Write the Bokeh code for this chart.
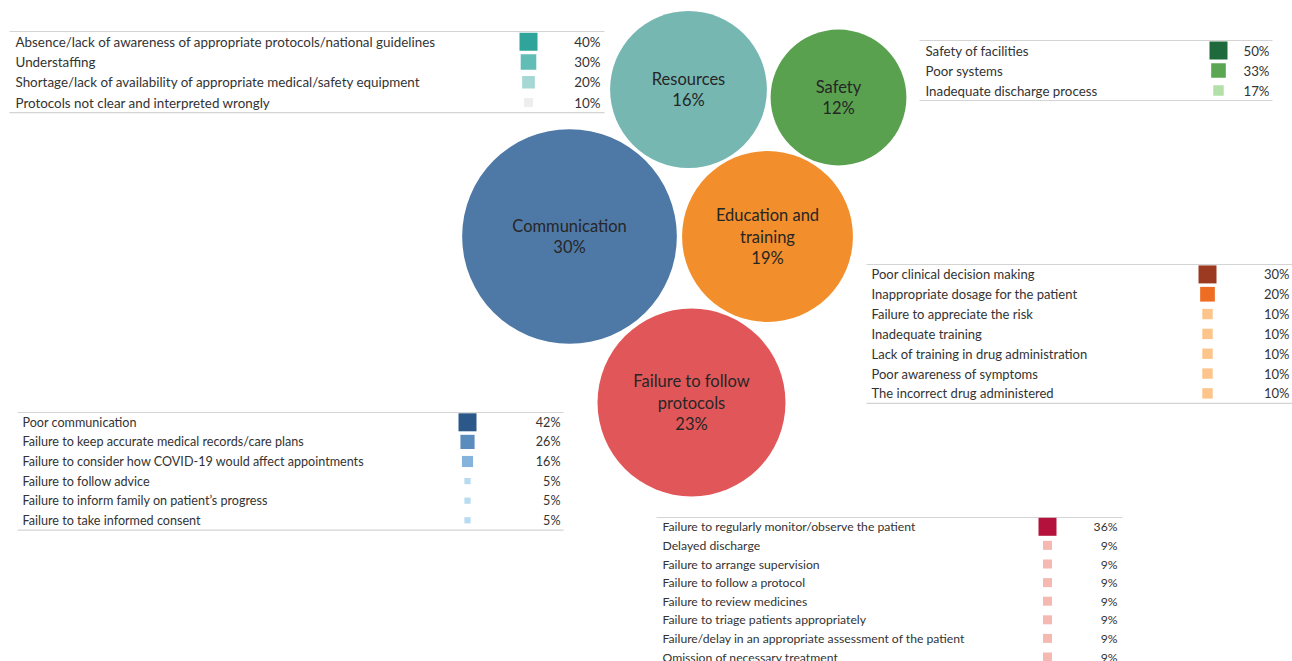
import math
from bokeh.plotting import figure
from bokeh.models import Range1d
from bokeh.core.properties import value
from bokeh.embed import file_html
from bokeh.resources import INLINE

# ---------------- data ----------------
categories = ["Communication", "Failure to follow protocols", "Education and training", "Resources", "Safety"]
category_lines = [["Communication"], ["Failure to follow", "protocols"], ["Education and", "training"], ["Resources"], ["Safety"]]
category_share = [30, 23, 19, 16, 12]

resources_causes = ["Absence/lack of awareness of appropriate protocols/national guidelines",
                    "Understaffing",
                    "Shortage/lack of availability of appropriate medical/safety equipment",
                    "Protocols not clear and interpreted wrongly"]
resources_share = [40, 30, 20, 10]

safety_causes = ["Safety of facilities", "Poor systems", "Inadequate discharge process"]
safety_share = [50, 33, 17]

education_causes = ["Poor clinical decision making", "Inappropriate dosage for the patient",
                    "Failure to appreciate the risk", "Inadequate training",
                    "Lack of training in drug administration", "Poor awareness of symptoms",
                    "The incorrect drug administered"]
education_share = [30, 20, 10, 10, 10, 10, 10]

communication_causes = ["Poor communication", "Failure to keep accurate medical records/care plans",
                        "Failure to consider how COVID-19 would affect appointments",
                        "Failure to follow advice", "Failure to inform family on patient\u2019s progress",
                        "Failure to take informed consent"]
communication_share = [42, 26, 16, 5, 5, 5]

protocols_causes = ["Failure to regularly monitor/observe the patient", "Delayed discharge",
                    "Failure to arrange supervision", "Failure to follow a protocol",
                    "Failure to review medicines", "Failure to triage patients appropriately",
                    "Failure/delay in an appropriate assessment of the patient",
                    "Omission of necessary treatment"]
protocols_share = [36, 9, 9, 9, 9, 9, 9, 9]

# ---------------- layout / style ----------------
FONT = "Lato"
bubble_colors = {"Communication": "#4e79a7", "Failure to follow protocols": "#e15759",
                 "Education and training": "#f28e2b", "Resources": "#76b7b2", "Safety": "#59a14f"}
bubble_centers = {"Communication": (569, 236), "Failure to follow protocols": (691, 402),
                  "Education and training": (767, 236), "Resources": (688, 89), "Safety": (838, 97)}
RADIUS_K = 19.6
BUBBLE_LINE_H = 21.5

W, H = 1292, 661
p = figure(width=W, height=H, x_range=Range1d(0, W), y_range=Range1d(H, 0),
           output_backend="svg", toolbar_location=None, min_border=0,
           x_axis_location=None, y_axis_location=None)
p.grid.visible = False
p.outline_line_color = None
p.background_fill_color = "white"

# bubbles
for cat, lines, share in zip(categories, category_lines, category_share):
    cx, cy = bubble_centers[cat]
    r = RADIUS_K * math.sqrt(share)
    p.circle(x=[cx], y=[cy], radius=r, fill_color=bubble_colors[cat], line_color=None)
    all_lines = lines + [f"{share}%"]
    n = len(all_lines)
    ys = [cy + (i - (n - 1) / 2) * BUBBLE_LINE_H for i in range(n)]
    p.text(x=[cx] * n, y=ys, text=all_lines, text_align="center", text_baseline="middle",
           text_font=value(FONT), text_font_size="16.5px", text_color="#262626")

# tables
tables = [
    dict(items=resources_causes, vals=resources_share,
         colors=["#2ea49a", "#62bdb6", "#a5d8d4", "#eeeeee"],
         x0=9, x1=604, top=31, rh=20.3, lx=15, sx=528, px=600, fs="13.4px"),
    dict(items=safety_causes, vals=safety_share,
         colors=["#1e6a3c", "#5aa653", "#b3e0a9"],
         x0=919, x1=1272, top=40, rh=20, lx=925, sx=1218, px=1269, fs="13.3px"),
    dict(items=education_causes, vals=education_share,
         colors=["#9b3a20", "#ee6d22"] + ["#fdc58b"] * 5,
         x0=866, x1=1292, top=264, rh=19.83, lx=871, sx=1207, px=1289, fs="13px"),
    dict(items=communication_causes, vals=communication_share,
         colors=["#2b5888", "#5a8cbd", "#84b4dc", "#b7dcf1", "#b7dcf1", "#b7dcf1"],
         x0=17, x1=563, top=412, rh=19.6, lx=22, sx=467, px=560, fs="12.6px"),
    dict(items=protocols_causes, vals=protocols_share,
         colors=["#b4123d"] + ["#f6b9b1"] * 7,
         x0=656, x1=1122, top=517, rh=18.6, lx=662, sx=1047, px=1117, fs="12.2px"),
]
SQ_MAX = 18
for t in tables:
    n = len(t["items"])
    ys = [t["top"] + (i + 0.5) * t["rh"] for i in range(n)]
    bot = t["top"] + n * t["rh"]
    p.segment(x0=[t["x0"], t["x0"]], y0=[t["top"], bot], x1=[t["x1"], t["x1"]], y1=[t["top"], bot],
              line_color="#d4d4d4", line_width=1.2)
    vmax = max(t["vals"])
    sizes = [SQ_MAX * math.sqrt(v / vmax) for v in t["vals"]]
    p.scatter(x=[t["sx"]] * n, y=ys, size=sizes, marker="square", fill_color=t["colors"], line_color=None)
    p.text(x=[t["lx"]] * n, y=ys, text=t["items"], text_align="left", text_baseline="middle",
           text_font=value(FONT), text_font_size=t["fs"], text_color="#333333")
    p.text(x=[t["px"]] * n, y=ys, text=[f"{v}%" for v in t["vals"]], text_align="right",
           text_baseline="middle", text_font=value(FONT), text_font_size=t["fs"], text_color="#333333")

open("out.html", "w").write(file_html(p, INLINE))
